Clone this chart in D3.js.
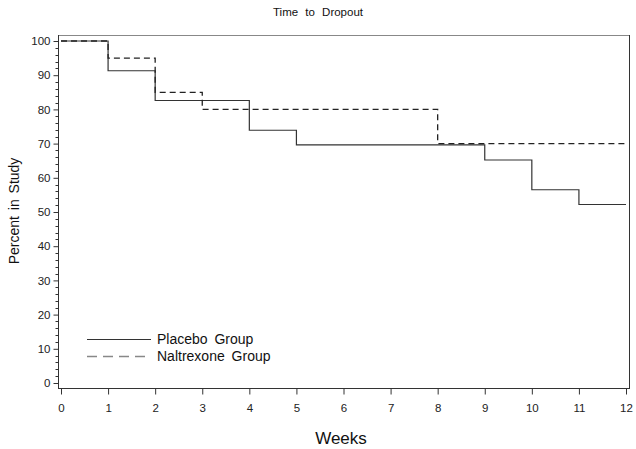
<!DOCTYPE html>
<html><head><meta charset="utf-8">
<script src="https://cdn.jsdelivr.net/npm/d3@7"></script>
<style>body{margin:0;background:#fff}svg{display:block}text{font-family:Arial,"Liberation Sans",sans-serif}</style>
</head><body><svg id="c" width="636" height="449"></svg>
<script>
const weeks = [0,1,2,3,4,5,6,7,8,9,10,11,12];
const placeboTimes  = [0, 1, 2, 4, 5, 9, 10, 11, 12];
const placeboValues = [100, 91.3, 82.6, 73.9, 69.6, 65.2, 56.5, 52.2, 52.2];
const naltrexoneTimes  = [0, 1, 2, 3, 8, 12];
const naltrexoneValues = [100, 95, 85, 80, 70, 70];
const yTicks = [0,10,20,30,40,50,60,70,80,90,100];
const legendLabels = ["Placebo Group","Naltrexone Group"];

const svg = d3.select("#c");
const x = d3.scaleLinear().domain([0,12]).range([61,626]);
const y = d3.scaleLinear().domain([0,100]).range([383,41]);
const L=58, R=629, T=35, B=388;

// frame
svg.append("line").attr("x1",L).attr("x2",R).attr("y1",T+0.5).attr("y2",T+0.5).attr("stroke","#888").attr("stroke-width",1.2);
svg.append("line").attr("x1",R+0.5).attr("x2",R+0.5).attr("y1",T).attr("y2",B).attr("stroke","#333");

// x axis
const xa = svg.append("g").attr("transform",`translate(0,${B+0.5})`)
  .call(d3.axisBottom(x).tickValues(weeks).tickFormat(d3.format("d")).tickSizeOuter(0).tickSize(6).tickPadding(9));
xa.select(".domain").attr("d",`M${L},0H${R+1}`).attr("stroke","#333");
xa.selectAll(".tick line").attr("stroke","#333");
xa.selectAll("text").attr("font-size",11.5).attr("fill","#222");

// y axis
const ya = svg.append("g").attr("transform",`translate(${L+0.5},0)`)
  .call(d3.axisLeft(y).tickValues(yTicks).tickSizeOuter(0).tickSize(5).tickPadding(3));
ya.select(".domain").attr("d",`M0,${T}V${B}`).attr("stroke","#333");
ya.selectAll(".tick line").attr("stroke","#333");
ya.selectAll("text").attr("font-size",11.5).attr("fill","#222");
const minor = d3.range(0,101,2).filter(v=>v%10!==0);
ya.selectAll(".minor").data(minor).join("line").attr("class","minor")
  .attr("x1",-3).attr("x2",0).attr("y1",d=>Math.round(y(d))+0.5).attr("y2",d=>Math.round(y(d))+0.5).attr("stroke","#333");

const line = d3.line().x(d=>x(d[0])).y(d=>y(d[1])).curve(d3.curveStepAfter);
svg.append("path").attr("d",line(placeboTimes.map((t,i)=>[t,placeboValues[i]])))
  .attr("fill","none").attr("stroke","#333").attr("stroke-width",1.2);
svg.append("path").attr("d",line(naltrexoneTimes.map((t,i)=>[t,naltrexoneValues[i]])))
  .attr("fill","none").attr("stroke","#222").attr("stroke-width",1.3).attr("stroke-dasharray","6,4");

// legend
const lg = svg.append("g");
lg.append("line").attr("x1",87).attr("x2",151).attr("y1",339.5).attr("y2",339.5).attr("stroke","#333").attr("stroke-width",1.2);
lg.append("line").attr("x1",87).attr("x2",151).attr("y1",356.5).attr("y2",356.5).attr("stroke","#888").attr("stroke-width",1.3).attr("stroke-dasharray","10,6");
lg.selectAll("text").data(legendLabels).join("text").attr("x",157).attr("y",(d,i)=>344+i*17)
  .attr("font-size",14).attr("word-spacing",3).attr("fill","#111").text(d=>d);

// titles
svg.append("text").attr("x",318).attr("y",16).attr("text-anchor","middle").attr("font-size",11.5).attr("word-spacing",4).attr("fill","#111").text("Time to Dropout");
svg.append("text").attr("x",341).attr("y",444).attr("text-anchor","middle").attr("font-size",17).attr("fill","#111").text("Weeks");
svg.append("text").attr("transform","translate(19,211) rotate(-90)").attr("text-anchor","middle").attr("font-size",14).attr("word-spacing",2).attr("fill","#111").text("Percent in Study");
</script></body></html>
